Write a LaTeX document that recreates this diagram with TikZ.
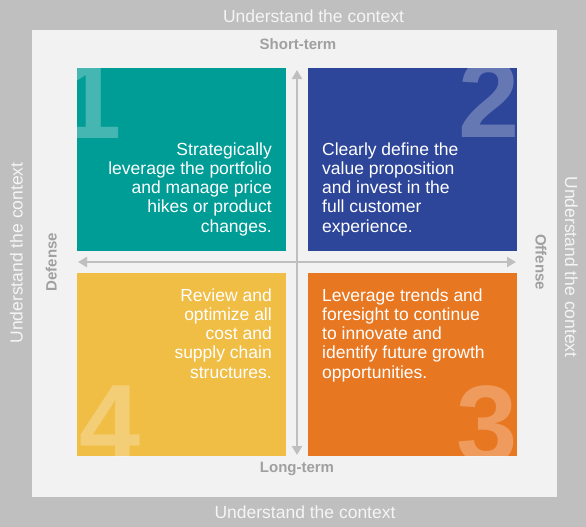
\documentclass[tikz,border=0pt]{standalone}
\usepackage{fontspec}
\setmainfont{Liberation Sans}
\usetikzlibrary{arrows.meta}
\definecolor{outergray}{RGB}{191,191,191}
\definecolor{innergray}{RGB}{242,242,242}
\definecolor{axisgray}{RGB}{191,191,191}
\definecolor{labelgray}{RGB}{160,160,160}
\definecolor{qteal}{RGB}{0,156,150}
\definecolor{qblue}{RGB}{46,70,153}
\definecolor{qyellow}{RGB}{240,189,69}
\definecolor{qorange}{RGB}{232,119,34}
\tikzset{
  quad/.style={draw=none, inner sep=0pt, minimum width=209pt, minimum height=182.5pt, anchor=north west},
  qtext/.style={text=white, inner sep=0pt, font=\fontsize{17.5}{19.2}\selectfont},
  bignum/.style={text=white, text opacity=0.27, inner sep=0pt, font=\fontsize{110}{110}\selectfont\bfseries},
  ctx/.style={text=white!96!black, inner sep=0pt, font=\fontsize{17.5}{20}\selectfont},
  axislabel/.style={text=labelgray, inner sep=0pt, font=\fontsize{15}{17}\selectfont\bfseries},
  axisline/.style={draw=axisgray, line width=2.5pt, {Triangle[length=9pt,width=10pt]}-{Triangle[length=9pt,width=10pt]}}
}
\begin{document}
\begin{tikzpicture}[x=1pt,y=-1pt]
\useasboundingbox (0,0) rectangle (586,527);
\fill[outergray] (0,0) rectangle (586,527);
\fill[innergray] (32,30) rectangle (557,497);

% context labels
\node[ctx, anchor=base] (ctxtop) at (313.5,23) {Understand the context};
\node[ctx, anchor=base] (ctxbot) at (305,518) {Understand the context};
\node[ctx, anchor=base, rotate=90] (ctxleft) at (22.5,253) {Understand the context};
\node[ctx, anchor=base, rotate=-90] (ctxright) at (565,267) {Understand the context};

% axis labels
\node[axislabel, anchor=base] (short) at (298,50) {Short-term};
\node[axislabel, anchor=base] (long) at (297,472) {Long-term};
\node[axislabel, anchor=base, rotate=90] (def) at (56.5,262) {Defense};
\node[axislabel, anchor=base, rotate=-90] (off) at (535.5,262) {Offense};

% quadrants
\node[quad, fill=qteal] (q1) at (77,68) {};
\node[quad, fill=qblue] (q2) at (308,68) {};
\node[quad, fill=qyellow, minimum height=183pt] (q4) at (77,273) {};
\node[quad, fill=qorange, minimum height=183pt] (q3) at (308,273) {};

% big numbers
\begin{scope}
\clip (q1.north west) rectangle (q1.south east);
\node[bignum, anchor=base east] (d1) at (121.5,138) {1};
\end{scope}
\begin{scope}
\clip (q2.north west) rectangle (q2.south east);
\node[bignum, anchor=base west] (d2) at (457.8,137) {2};
\end{scope}
\begin{scope}
\clip (q4.north west) rectangle (q4.south east);
\node[bignum, anchor=base east] (d4) at (140.8,461.8) {4};
\end{scope}
\begin{scope}
\clip (q3.north west) rectangle (q3.south east);
\node[bignum, anchor=base west] (d3) at (456.7,462.5) {3};
\end{scope}

% quadrant texts
\node[qtext, align=right, anchor=north east] (t1) at (272,142.4) {Strategically\\leverage the portfolio\\and manage price\\hikes or product\\changes.};
\node[qtext, align=left, anchor=north west] (t2) at (322,142.4) {Clearly define the\\value proposition\\and invest in the\\full customer\\experience.};
\node[qtext, align=right, anchor=north east] (t4) at (272,288.4) {Review and\\optimize all\\cost and\\supply chain\\structures.};
\node[qtext, align=left, anchor=north west] (t3) at (322,288.4) {Leverage trends and\\foresight to continue\\to innovate and\\identify future growth\\opportunities.};

% axes
\coordinate (vtop) at (297,70);
\coordinate (vbot) at (297,455);
\coordinate (hleft) at (78,262);
\coordinate (hright) at (516,262);
\draw[axisline] (vbot) -- (vtop);
\draw[axisline] (hleft) -- (hright);
\end{tikzpicture}
\end{document}
